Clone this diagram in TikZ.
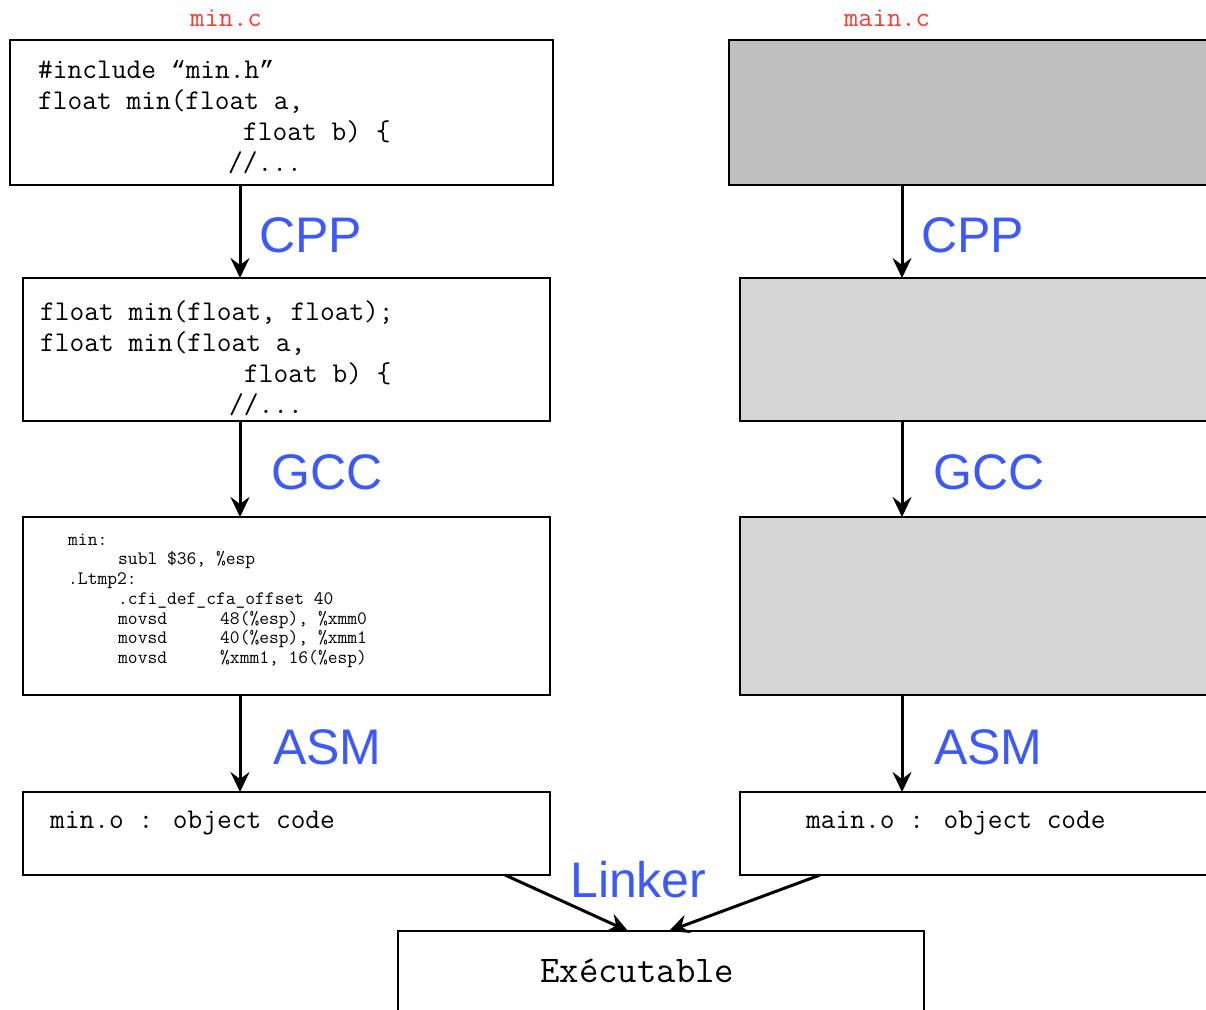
\documentclass[tikz,border=0pt]{standalone}
\usepackage{fontspec}
\setmainfont{Liberation Sans}
\newfontfamily\quotefont{Liberation Mono}
\usetikzlibrary{arrows.meta}
\definecolor{toolblue}{RGB}{60,90,250}
\definecolor{filered}{RGB}{250,60,50}
\definecolor{srcgrey}{RGB}{191,191,191}
\definecolor{objgrey}{RGB}{214,214,214}

\begin{document}
\begin{tikzpicture}[x=1pt,y=-1pt,
  box/.style={draw,line width=2.5pt,inner sep=0pt,outer sep=0pt},
  code/.style={font=\fontsize{28.6}{31}\selectfont\ttfamily,anchor=north west,align=left,inner sep=0pt},
  asm/.style={font=\fontsize{19}{19.7}\selectfont\ttfamily,anchor=north west,align=left,inner sep=0pt},
  tool/.style={font=\fontsize{50}{60}\selectfont,text=toolblue,anchor=base west,inner sep=0pt},
  fname/.style={font=\fontsize{27.8}{30}\selectfont\ttfamily,text=filered,inner sep=0pt},
  flow/.style={-{Stealth[length=20pt,width=19pt,inset=7pt]},line width=3pt}]
\useasboundingbox (0,0) rectangle (1206,1009);
\clip (0,0) rectangle (1206,1009);

% left column: min.c
\node[fname] (minlbl) at (226,18) {min.c};
\node[box,minimum width=543pt,minimum height=145pt] (minc) at (281.5,112.5) {};
\node[box,minimum width=527pt,minimum height=143pt] (minpp) at (286.5,349.5) {};
\node[box,minimum width=527pt,minimum height=178pt] (mins) at (286.5,606) {};
\node[box,minimum width=527pt,minimum height=83pt] (mino) at (286.5,833.5) {};

\node[code] (minctxt) at (38,56.3) {\strut\#include {\quotefont\fontsize{25}{31}\selectfont“}min.h{\quotefont\fontsize{25}{31}\selectfont”}\\
  float min(float a,\\
  \hspace*{205pt}float b) \{\\
  \hspace*{190pt}//...};
\node[code] (minpptxt) at (40,298.3) {\strut float min(float, float);\\
  float min(float a,\\
  \hspace*{204pt}float b) \{\\
  \hspace*{189pt}//...};
\node[asm] (minstxt) at (68,531.2) {\strut min:\\
  \hspace*{50pt}subl \$36, \%esp\\
  .Ltmp2:\\
  \hspace*{50pt}.cfi\_def\_cfa\_offset 40\\
  \hspace*{50pt}\makebox[102pt][l]{movsd}48(\%esp), \%xmm0\\
  \hspace*{50pt}\makebox[102pt][l]{movsd}40(\%esp), \%xmm1\\
  \hspace*{50pt}\makebox[102pt][l]{movsd}\%xmm1, 16(\%esp)};
\node[code,anchor=base west] (minotxt) at (50,828) {min.o : object code};

% right column: main.c
\node[fname] (mainlbl) at (887,18) {main.c};
\node[box,fill=srcgrey,minimum width=511pt,minimum height=145pt] (mainc) at (984.5,112.5) {};
\node[box,fill=objgrey,minimum width=500pt,minimum height=143pt] (mainpp) at (990,349.5) {};
\node[box,fill=objgrey,minimum width=500pt,minimum height=178pt] (mains) at (990,606) {};
\node[box,minimum width=500pt,minimum height=83pt] (maino) at (990,833.5) {};
\node[code,anchor=base west] (mainotxt) at (806,828) {main.o : object code};

% executable
\node[box,minimum width=526pt,minimum height=119pt] (exe) at (661,990.5) {};
\node[code,font=\fontsize{37.7}{40}\selectfont\ttfamily,anchor=base west] (exetxt) at (540,982) {Exécutable};

% steps
\coordinate (lcol) at (240,0);
\coordinate (rcol) at (902,0);
\draw[flow] (minc.south -| lcol) -- (minpp.north -| lcol);
\draw[flow] (minpp.south -| lcol) -- (mins.north -| lcol);
\draw[flow] (mins.south -| lcol) -- (mino.north -| lcol);
\draw[flow] (mainc.south -| rcol) -- (mainpp.north -| rcol);
\draw[flow] (mainpp.south -| rcol) -- (mains.north -| rcol);
\draw[flow] (mains.south -| rcol) -- (maino.north -| rcol);
\node[tool] (cppl) at (259,252) {CPP};
\node[tool] (gccl) at (271,489) {GCC};
\node[tool] (asml) at (273,764) {ASM};
\node[tool] (cppr) at (921,252) {CPP};
\node[tool] (gccr) at (933,489) {GCC};
\node[tool] (asmr) at (934,764) {ASM};

% linker
\draw[flow] (505,0 |- mino.south) -- (628,0 |- exe.north);
\draw[flow] (820,0 |- maino.south) -- (669,0 |- exe.north);
\node[tool] (link) at (570,897) {Linker};
\end{tikzpicture}
\end{document}
